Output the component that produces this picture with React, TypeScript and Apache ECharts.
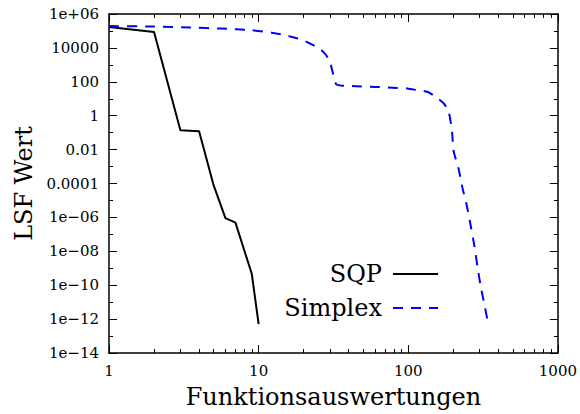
import React, { useEffect, useRef } from "react";
import * as echarts from "echarts";

const sqpX = [1, 2, 3, 4, 5, 6, 7, 8, 9, 10];
const sqpY = [1.7e5, 8.7e4, 0.14, 0.12, 8e-5, 9e-7, 4.9e-7, 1.2e-8, 4.7e-10, 5e-13];

const simplexX = [
  1, 2, 3.5, 5.6, 9, 12.2, 14.2, 16.5, 19.3, 22, 25.6, 28.3, 30.3, 31.4, 33, 37.5, 44.8, 60.8,
  83.7, 98.6, 114.5, 134, 153, 172.8, 186.5, 196, 201, 217, 231, 247, 262, 277, 290, 305, 323, 343,
];
const simplexY = [
  1.95e5, 1.82e5, 1.58e5, 1.38e5, 1.1e5, 7.9e4, 6.3e4, 4.5e4, 3.1e4, 1.82e4, 9.1e3, 3.7e3, 1.05e3,
  310, 71, 57.5, 55, 50, 43.6, 40.7, 32.4, 25.7, 12.9, 5.25, 1.7, 0.112, 8.1e-3, 7.1e-4, 4.8e-5,
  4.3e-6, 2.9e-7, 1.9e-8, 1.26e-9, 8.3e-11, 6.9e-12, 4.7e-13,
];

const xMin = 1;
const xMax = 1000;
const yMin = 1e-14;
const yMax = 1e6;

const FONT = "DejaVu Serif";

function fmtY(v: number): string {
  const e = Math.round(Math.log10(v));
  if (e >= -4 && e <= 5) {
    return e >= 0 ? String(Math.pow(10, e)) : Math.pow(10, e).toFixed(-e);
  }
  const sign = e < 0 ? "\u2212" : "+";
  const a = Math.abs(e);
  return "1e" + sign + (a < 10 ? "0" + a : String(a));
}

export default function App() {
  const ref = useRef<HTMLDivElement>(null);
  useEffect(() => {
    if (!ref.current) return;
    const chart = echarts.init(ref.current, undefined, { renderer: "svg" });
    const axisLine = { show: true, lineStyle: { color: "#000", width: 1.5 } };
    const baseY = {
      type: "log" as const,
      logBase: 10,
      min: yMin,
      max: yMax,
      splitLine: { show: false },
    };
    const baseX = {
      type: "log" as const,
      logBase: 10,
      min: xMin,
      max: xMax,
      splitLine: { show: false },
    };
    const legendBase = {
      orient: "vertical" as const,
      align: "right" as const,
      right: 141,
      padding: 0,
      itemWidth: 45,
      itemHeight: 14,
      itemStyle: { opacity: 0 },
      textStyle: {
        fontFamily: FONT,
        fontSize: 24,
        color: "#000",
        lineHeight: 24,
        padding: [0, 6, 0, 0],
      },
    };
    chart.setOption({
      animation: false,
      grid: { left: 109, right: 18, top: 14, bottom: 61 },
      legend: [
        { ...legendBase, data: ["SQP"], top: 262 },
        { ...legendBase, data: ["Simplex"], top: 296 },
      ],
      xAxis: [
        {
          ...baseX,
          position: "bottom",
          axisLine,
          axisTick: { show: true, inside: true, length: 8, lineStyle: { color: "#000", width: 1 } },
          minorTick: { show: true, splitNumber: 9, length: 4, lineStyle: { color: "#000", width: 1 } },
          axisLabel: {
            fontFamily: FONT,
            fontSize: 15,
            color: "#000",
            margin: 10,
            formatter: (v: number) => String(Math.round(v)),
          },
          name: "Funktionsauswertungen",
          nameLocation: "middle",
          nameGap: 32,
          nameTextStyle: { fontFamily: FONT, fontSize: 24, color: "#000" },
        },
        {
          ...baseX,
          position: "top",
          axisLine,
          axisTick: { show: true, inside: true, length: 8, lineStyle: { color: "#000", width: 1 } },
          minorTick: { show: true, splitNumber: 9, length: 4, lineStyle: { color: "#000", width: 1 } },
          axisLabel: { show: false },
        },
      ],
      yAxis: [
        {
          ...baseY,
          interval: 2,
          position: "left",
          axisLine,
          axisTick: { show: true, inside: true, length: 8, lineStyle: { color: "#000", width: 1 } },
          axisLabel: {
            fontFamily: FONT,
            fontSize: 15,
            color: "#000",
            margin: 10,
            formatter: (v: number) => fmtY(v),
          },
          name: "LSF Wert",
          nameLocation: "middle",
          nameGap: 72,
          nameTextStyle: { fontFamily: FONT, fontSize: 24, color: "#000" },
        },
        {
          ...baseY,
          interval: 1,
          position: "left",
          axisLine: { show: false },
          axisTick: { show: true, inside: true, length: 4, lineStyle: { color: "#000", width: 1 } },
          axisLabel: { show: false },
        },
        {
          ...baseY,
          interval: 2,
          position: "right",
          axisLine,
          axisTick: { show: true, inside: true, length: 8, lineStyle: { color: "#000", width: 1 } },
          axisLabel: { show: false },
        },
        {
          ...baseY,
          interval: 1,
          position: "right",
          axisLine: { show: false },
          axisTick: { show: true, inside: true, length: 4, lineStyle: { color: "#000", width: 1 } },
          axisLabel: { show: false },
        },
      ],
      series: [
        {
          name: "SQP",
          type: "line",
          xAxisIndex: 0,
          yAxisIndex: 0,
          symbol: "none",
          showSymbol: false,
          lineStyle: { color: "#000", width: 2 },
          itemStyle: { color: "#000" },
          data: sqpX.map((x, i) => [x, sqpY[i]]),
        },
        {
          name: "Simplex",
          type: "line",
          xAxisIndex: 0,
          yAxisIndex: 0,
          symbol: "none",
          showSymbol: false,
          smooth: 0.2,
          lineStyle: { color: "#0000ff", width: 2, type: [10, 8] },
          itemStyle: { color: "#0000ff" },
          data: simplexX.map((x, i) => [x, simplexY[i]]),
        },
      ],
    });
    return () => chart.dispose();
  }, []);
  return (
    <div
      ref={ref}
      style={{ position: "fixed", left: 0, top: 0, width: 580, height: 414, background: "#fff" }}
    />
  );
}
